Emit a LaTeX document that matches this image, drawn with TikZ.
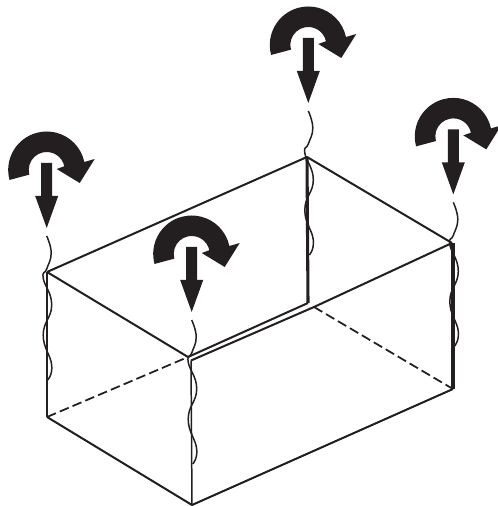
\documentclass[tikz,border=0pt]{standalone}
\usepackage{tikz}
\usetikzlibrary{calc}
\definecolor{inkdark}{HTML}{231F20}
\tikzset{
  edgeline/.style={draw=inkdark, line width=1.15pt},
  thinedge/.style={draw=inkdark, line width=0.85pt},
  thickedge/.style={draw=inkdark, line width=1.75pt},
  hiddenedge/.style={draw=inkdark, line width=1pt, dash pattern=on 5.5pt off 2.4pt},
  wireline/.style={draw=inkdark, line width=0.85pt, line join=round},
  solidpart/.style={fill=inkdark, draw=none},
  twistload/.pic={
    \fill[solidpart] (195:38.5) arc[start angle=195, end angle=12, radius=38.5]
      -- (48,11) -- (33,-13) -- (10,1) -- (12:18)
      arc[start angle=12, end angle=195, radius=18] -- cycle;
    \fill[solidpart] (-5.5,7) -- (5.5,7) -- (5.5,-26) -- (11.5,-26) -- (0,-58)
      -- (-11.5,-26) -- (-5.5,-26) -- cycle;
    \draw[wireline] plot[smooth, tension=0.8] coordinates {(0,-66) (4.5,-83) (0,-99)
      (-3.5,-108) (5,-135) (-3.5,-165) (5,-195) (1,-210)};
  }
}
\begin{document}
\begin{tikzpicture}[x=0.02cm, y=0.02cm]
    \useasboundingbox (0,0) rectangle (497,506);
    \coordinate (left) at (47,234);
    \coordinate (front) at (188,149);
    \coordinate (frontin) at (191,145.5);
    \coordinate (back) at (307,349);
    \coordinate (right) at (452,263);
    \coordinate (leftlow) at (47,89);
    \coordinate (frontlow) at (192,1);
    \coordinate (rightlow) at (453,117);
    \coordinate (backlow) at (308,203);
    \coordinate (backin) at (314,199);
    \draw[edgeline] (leftlow) -- (frontlow) -- (rightlow);
    \draw[edgeline] (left) -- (back) -- (right);
    \draw[edgeline] (left) -- (front);
    \draw[edgeline] (front) -- (backlow);
    \draw[edgeline] (frontin) -- (backin) -- (right);
    \draw[hiddenedge] (leftlow) -- (front);
    \draw[hiddenedge] (backin) -- (rightlow);
    \draw[edgeline] (left) -- (leftlow);
    \draw[thinedge] (frontin) -- (frontlow);
    \draw[thickedge] (back) -- (backlow);
    \draw[thickedge] (453,263) -- (rightlow);
    \pic at (46.7,336) {twistload};
    \pic at (191.7,252) {twistload};
    \pic at (308.3,461) {twistload};
    \pic at (453.3,369.6) {twistload};
  \end{tikzpicture}
\end{document}
